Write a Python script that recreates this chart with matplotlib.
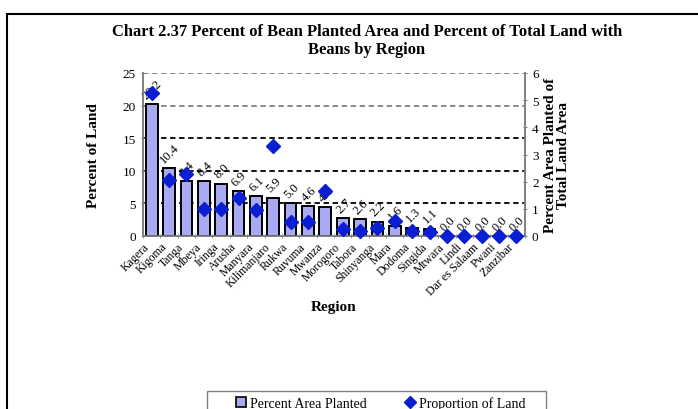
import matplotlib
matplotlib.use("Agg")
import matplotlib.pyplot as plt
from matplotlib.patches import Patch, Rectangle
from matplotlib.lines import Line2D

regions = ["Kagera", "Kigoma", "Tanga", "Mbeya", "Iringa", "Arusha", "Manyara",
           "Kilimanjaro", "Rukwa", "Ruvuma", "Mwanza", "Morogoro", "Tabora",
           "Shinyanga", "Mara", "Dodoma", "Singida", "Mtwara", "Lindi",
           "Dar es Salaam", "Pwani", "Zanzibar"]
pct_area = [20.2, 10.4, 8.4, 8.4, 8.0, 6.9, 6.1, 5.9, 5.0, 4.6, 4.4, 2.7, 2.6,
            2.2, 1.6, 1.3, 1.1, 0.0, 0.0, 0.0, 0.0, 0.0]
prop_land = [5.28, 2.07, 2.29, 0.99, 1.0, 1.39, 0.97, 3.30, 0.50, 0.50, 1.64,
             0.26, 0.20, 0.29, 0.57, 0.20, 0.14, 0.0, 0.0, 0.0, 0.0, 0.0]

plt.rcParams["font.family"] = ["Liberation Serif", "DejaVu Serif"]

W, H = 698, 410
fig = plt.figure(figsize=(W / 100, H / 100), dpi=100)

# outer frame (cropped at right/bottom)
fig.add_artist(Rectangle((7 / W, -0.2), 1.2, 1.2 - 15 / H, transform=fig.transFigure,
                         fill=False, edgecolor="black", linewidth=1.5))

ax = fig.add_axes([143 / W, 1 - 237 / H, 382 / W, 163 / H])
ax2 = ax.twinx()

x = list(range(len(regions)))
bar_color = "#aaaaf2"
diamond = "#0a1ed2"
ax.bar(x, pct_area, width=0.68, color=bar_color, edgecolor="black", linewidth=1.4, zorder=3)
for xi, v in zip(x, pct_area):
    ax.text(xi + 0.05, v + 0.5, f"{v:.1f}", rotation=45, ha="center", va="bottom",
            fontsize=9, zorder=5)

# dashed gridlines
for yv, c in [(5, "black"), (10, "black"), (15, "black"), (20, "#808080"), (25, "#808080")]:
    ax.axhline(yv, color=c, linestyle=(0, (3, 2)), linewidth=1.3, zorder=1)

ax.set_xlim(-0.5, len(regions) - 0.5)
ax.set_ylim(0, 25)
ax.set_yticks([0, 5, 10, 15, 20, 25])
ax.set_xticks(x)
ax.set_xticklabels(regions, rotation=45, ha="right", fontsize=8.5)
ax.tick_params(axis="x", length=0, pad=3)
ax.set_xticks([i - 0.5 for i in range(len(regions) + 1)], minor=True)
ax.tick_params(axis="x", which="minor", length=3, color="#808080", direction="inout")
ax.tick_params(axis="y", length=3, color="#808080", labelsize=9.5, direction="inout")

ax2.plot(x, prop_land, linestyle="none", marker="D", markersize=7, color=diamond, zorder=4,
         clip_on=False)
ax2.set_ylim(0, 6)
ax2.set_yticks(range(7))
ax2.tick_params(axis="y", length=3, color="#808080", labelsize=9.5, direction="inout")

for a in (ax, ax2):
    for s in a.spines.values():
        s.set_color("#808080")
        s.set_linewidth(1.2)
    a.spines["top"].set_visible(False)

ax.set_ylabel("Percent of Land", fontsize=11, fontweight="bold", labelpad=16)
ax2.set_ylabel("Percent Area Planted of\nTotal Land Area", fontsize=11, fontweight="bold",
               labelpad=4, linespacing=1.0)
ax.set_xlabel("Region", fontsize=11, fontweight="bold", labelpad=2)

fig.text(367 / W, 1 - 41 / H, "Chart 2.37 Percent of Bean Planted Area and Percent of Total Land with\nBeans by Region",
         ha="center", va="center", fontsize=11.9, fontweight="bold", linespacing=1.15)

# legend: frame drawn separately, cropped at bottom
fig.add_artist(Rectangle((207 / W, -0.2), 339 / W, 0.2 + 1 - 392 / H, transform=fig.transFigure,
                         fill=False, edgecolor="#808080", linewidth=1.0))
handles = [Patch(facecolor=bar_color, edgecolor="black", linewidth=1.2),
           Line2D([], [], linestyle="none", marker="D", markersize=6.5, color=diamond)]
fig.legend(handles, ["Percent Area Planted", "Proportion of Land"], loc="upper left",
           bbox_to_anchor=(236 / W, 1 - 397 / H), ncol=2, frameon=False, fontsize=10,
           borderaxespad=0, borderpad=0, handlelength=0.7, handleheight=0.7,
           handletextpad=0.3, columnspacing=2.8)

fig.savefig("out.png", dpi=100)
